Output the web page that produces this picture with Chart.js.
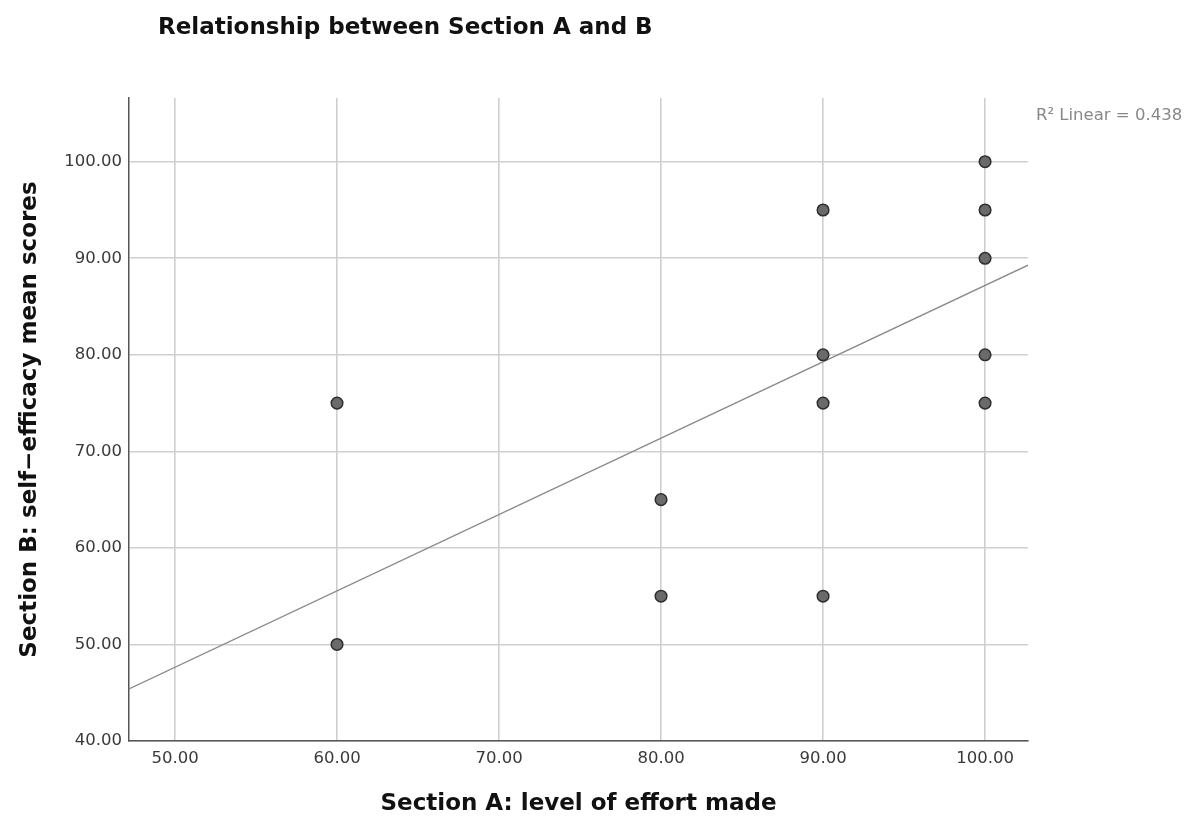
<!DOCTYPE html>
<html>
<head>
<meta charset="utf-8">
<title>Relationship between Section A and B</title>
<script src="https://cdn.jsdelivr.net/npm/chart.js@4.4.1/dist/chart.umd.min.js"></script>
<style>
  html, body { margin: 0; padding: 0; background: #fff; }
  canvas { display: block; }
</style>
</head>
<body>
<canvas id="chart" width="1201" height="818"></canvas>
<script>
// Section A score (level of effort) for each respondent
const effortScores = [60, 60, 80, 80, 90, 90, 90, 90, 100, 100, 100, 100, 100];
// Section B score (self-efficacy mean) for each respondent
const efficacyScores = [75, 50, 65, 55, 95, 80, 75, 55, 100, 95, 90, 80, 75];

// Axis ticks
const xTickValues = [50, 60, 70, 80, 90, 100];
const yTickValues = [40, 50, 60, 70, 80, 90, 100];

// Axis extents
const xRange = [47.16, 102.65];
const yRange = [40, 106.6];

// Linear fit reported for the scatter
const fitIntercept = 8.09;
const fitSlope = 0.791;
const fitRSquared = 0.438;

const chartTitle = 'Relationship between Section A and B';
const xAxisTitle = 'Section A: level of effort made';
const yAxisTitle = 'Section B: self\u2212efficacy mean scores';

const points = effortScores.map((x, i) => ({ x: x, y: efficacyScores[i] }));
const fitLine = xRange.map(x => ({ x: x, y: fitIntercept + fitSlope * x }));

const tickFont = { family: '"DejaVu Sans", sans-serif', size: 16.5 };
const titleFont = { family: '"DejaVu Sans", sans-serif', size: 23, weight: 'bold' };

// Main title and the R² note
const annotations = {
  id: 'annotations',
  afterDraw(chart) {
    const ctx = chart.ctx;
    const area = chart.chartArea;
    ctx.save();
    ctx.fillStyle = '#111';
    ctx.font = 'bold 23px "DejaVu Sans", sans-serif';
    ctx.textAlign = 'left';
    ctx.textBaseline = 'alphabetic';
    ctx.fillText(chartTitle, 158, 34);
    ctx.fillStyle = '#888';
    ctx.font = '16.5px "DejaVu Sans", sans-serif';
    ctx.fillText('R\u00b2 Linear = ' + fitRSquared.toFixed(3), area.right + 8, 120);
    ctx.restore();
  }
};

new Chart(document.getElementById('chart'), {
  type: 'scatter',
  data: {
    datasets: [
      {
        type: 'line',
        data: fitLine,
        borderColor: '#8a8a8a',
        borderWidth: 1.3,
        pointRadius: 0,
        fill: false,
        order: 2
      },
      {
        data: points,
        backgroundColor: '#6a6a6a',
        borderColor: '#2e2e2e',
        borderWidth: 1.5,
        pointRadius: 5.8,
        order: 1
      }
    ]
  },
  options: {
    responsive: false,
    animation: false,
    layout: { padding: { top: 98, right: 173, bottom: 0, left: 0 } },
    plugins: {
      legend: { display: false },
      tooltip: { enabled: false },
      title: { display: false }
    },
    scales: {
      x: {
        type: 'linear',
        min: xRange[0],
        max: xRange[1],
        afterBuildTicks(scale) { scale.ticks = xTickValues.map(v => ({ value: v })); },
        afterFit(scale) { scale.height = 77; },
        ticks: {
          font: tickFont,
          color: '#3a3a3a',
          padding: 8,
          maxRotation: 0,
          callback: v => Number(v).toFixed(2)
        },
        grid: { color: '#cfcfcf', lineWidth: 1.6, drawTicks: false },
        border: { display: true, color: '#555', width: 1.5 },
        title: {
          display: true,
          text: xAxisTitle,
          font: titleFont,
          color: '#111',
          padding: { top: 0, bottom: 0 }
        }
      },
      y: {
        type: 'linear',
        min: yRange[0],
        max: yRange[1],
        afterBuildTicks(scale) { scale.ticks = yTickValues.map(v => ({ value: v })); },
        afterFit(scale) { scale.width = 129; },
        ticks: {
          font: tickFont,
          color: '#3a3a3a',
          padding: 7,
          callback: v => Number(v).toFixed(2)
        },
        grid: { color: '#cfcfcf', lineWidth: 1.6, drawTicks: false },
        border: { display: true, color: '#555', width: 1.5 },
        title: {
          display: true,
          text: yAxisTitle,
          font: titleFont,
          color: '#111',
          padding: { top: 16, bottom: 0 }
        }
      }
    }
  },
  plugins: [annotations]
});
</script>
</body>
</html>
